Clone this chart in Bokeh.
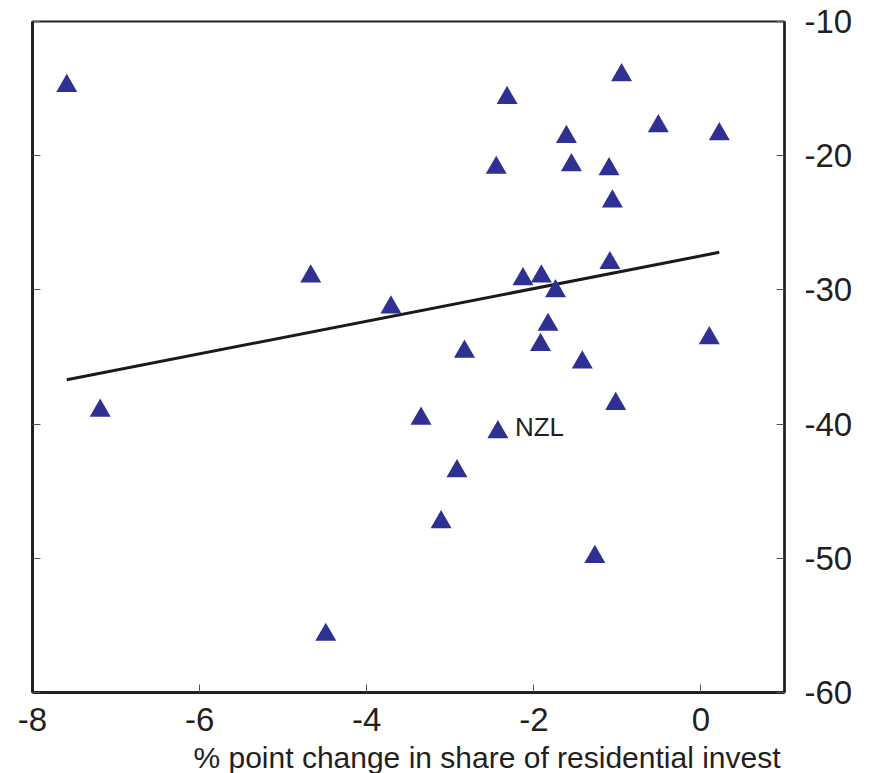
from bokeh.plotting import figure
from bokeh.models import (LinearAxis, FixedTicker, Title, ColumnDataSource, Range1d,
                          CustomJSTickFormatter)
from bokeh.core.properties import value
from bokeh.embed import file_html
from bokeh.resources import INLINE

# ---- data ----
res_invest_change = [-7.59, -2.32, -1.61, -2.45, -1.55, -0.95, -0.51, 0.22,
                     -1.10, -1.06, -1.09, -7.19, -4.67, -3.71, -2.13, -1.91,
                     -1.74, -1.83, -1.92, -2.83, -1.42, -3.35, -2.43, 0.10,
                     -1.02, -2.92, -4.49, -1.27, -3.11]
price_change = [-14.8, -15.7, -18.6, -20.9, -20.7, -14.0, -17.8, -18.4,
                -21.0, -23.4, -28.0, -39.0, -29.0, -31.3, -29.2, -29.0,
                -30.1, -32.6, -34.1, -34.6, -35.4, -39.6, -40.6, -33.6,
                -38.5, -43.5, -55.7, -49.9, -47.3]
labels = ["NZL" if i == 22 else "" for i in range(len(res_invest_change))]
trend_x = [-7.59, 0.22]
trend_y = [-36.7, -27.2]
x_ticks = [-8, -6, -4, -2, 0]
y_ticks = [-60, -50, -40, -30, -20, -10]
x_title = "% point change in share of residential invest"

FONT = "Liberation Sans"
INK = "#231f20"
BLUE = "#2e3192"

src = ColumnDataSource(dict(x=res_invest_change, y=price_change, lab=labels))

hyphen_fmt = "return tick.toString();"

p = figure(frame_width=752, frame_height=671,
           x_range=Range1d(-8, 1), y_range=Range1d(-60, -10),
           y_axis_location="right", output_backend="svg", toolbar_location=None,
           min_border_left=32, min_border_top=21, min_border_right=86,
           min_border_bottom=81)
p.grid.visible = False
p.outline_line_color = INK
p.outline_line_width = 2
p.background_fill_color = "white"
p.border_fill_color = "white"

# right axis
ya = p.yaxis[0]
ya.ticker = FixedTicker(ticks=y_ticks)
ya.formatter = CustomJSTickFormatter(code=hyphen_fmt)
ya.major_tick_in = 8
ya.major_tick_out = 0
ya.minor_tick_line_color = None
ya.major_tick_line_color = "#555555"
ya.axis_line_color = INK
ya.axis_line_width = 2.5
ya.major_label_standoff = 20
ya.major_label_text_font = FONT
ya.major_label_text_font_size = "33px"
ya.major_label_text_color = INK

# bottom axis
xa = p.xaxis[0]
xa.ticker = FixedTicker(ticks=x_ticks)
xa.formatter = CustomJSTickFormatter(code=hyphen_fmt)
xa.major_tick_in = 8
xa.major_tick_out = 0
xa.minor_tick_line_color = None
xa.major_tick_line_color = "#555555"
xa.axis_line_color = INK
xa.axis_line_width = 3
xa.major_label_standoff = 15
xa.major_label_text_font = FONT
xa.major_label_text_font_size = "33px"
xa.major_label_text_color = INK

# left mirror ticks (no labels)
la = LinearAxis(ticker=FixedTicker(ticks=y_ticks), major_tick_in=8, major_tick_out=0,
                formatter=CustomJSTickFormatter(code="return '';"),
                minor_tick_line_color=None, major_tick_line_color="#555555",
                axis_line_color=INK, axis_line_width=3, major_label_standoff=0)
p.add_layout(la, "left")

t = Title(text=x_title, align="right", text_font=FONT, text_font_size="30px",
          text_font_style="normal", text_color=INK, offset=4, standoff=10)
p.add_layout(t, "below")

p.line(trend_x, trend_y, line_color="#1a1a1a", line_width=3)
p.scatter("x", "y", source=src, marker="triangle", size=21,
          fill_color=BLUE, line_color=None)
p.text("x", "y", text="lab", source=src, x_offset=17, y_offset=-5,
       text_font=value(FONT), text_font_size="26px", text_color=INK,
       text_baseline="alphabetic", text_align="left")

open("out.html", "w").write(file_html(p, INLINE))
